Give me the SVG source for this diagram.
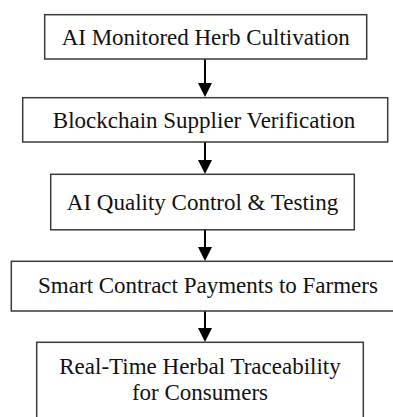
<svg xmlns="http://www.w3.org/2000/svg" width="393" height="417" viewBox="0 0 393 417">
<style>
.box{fill:#fff;stroke:#3a3a3a;stroke-width:1.5}
.t{font-family:"Liberation Serif","Times New Roman",serif;font-size:23px;fill:#111;text-anchor:middle}
.c{stroke:#000;stroke-width:2;fill:none}
.h{fill:#000}
</style>
<rect width="393" height="417" fill="#fff"/>
<g id="connectors">
<line class="c" x1="205" y1="59" x2="205" y2="84"/><path class="h" d="M198,83 L212,83 L205,97 Z"/>
<line class="c" x1="205" y1="142" x2="205" y2="161"/><path class="h" d="M198,160 L212,160 L205,174 Z"/>
<line class="c" x1="205" y1="230" x2="205" y2="248"/><path class="h" d="M198,247 L212,247 L205,261 Z"/>
<line class="c" x1="205" y1="311" x2="205" y2="329"/><path class="h" d="M198,328 L212,328 L205,342 Z"/>
</g>
<g id="n1"><rect class="box" x="44.7" y="14.7" width="322" height="44.3"/><text class="t" x="205.7" y="45">AI Monitored Herb Cultivation</text></g>
<g id="n2"><rect class="box" x="22.7" y="97.7" width="365" height="44.3"/><text class="t" x="204" y="128">Blockchain Supplier Verification</text></g>
<g id="n3"><rect class="box" x="50.7" y="174.3" width="303.6" height="55.5"/><text class="t" x="202.5" y="210">AI Quality Control &amp; Testing</text></g>
<g id="n4"><rect class="box" x="11.3" y="261.3" width="393" height="49.7"/><text class="t" x="208" y="293">Smart Contract Payments to Farmers</text></g>
<g id="n5"><rect class="box" x="36.7" y="342.3" width="326.6" height="90"/><text class="t" x="200" y="374">Real-Time Herbal Traceability</text><text class="t" x="200" y="400">for Consumers</text></g>
</svg>
